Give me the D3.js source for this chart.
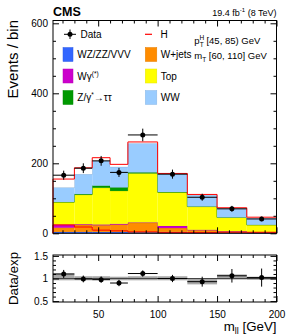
<!DOCTYPE html>
<html>
<head>
<meta charset="utf-8">
<script src="https://cdn.jsdelivr.net/npm/d3@7"></script>
<style>
  body { margin: 0; background: #fff; }
  svg { font-family: "Liberation Sans", Arial, sans-serif; }
</style>
</head>
<body>
<div id="chart"></div>
<script>
// bins in m_ll (GeV)
const binEdges = [12, 30, 45, 60, 75, 100, 125, 150, 175, 200];

// stacked backgrounds, events per bin (bottom -> top)
const vv     = [4, 4, 4, 4, 3, 4, 2, 2, 1];
const wjets  = [12, 20, 19, 21, 27, 11, 7, 3, 1.5];
const wgamma = [9, 2, 2, 2, 1, 6, 1, 1, 0.5];
const topq   = [64, 84, 105, 94, 140, 96, 66, 39, 21];
const ztt    = [0.5, 2, 6, 10, 3, 1, 0.5, 0.3, 0.2];
const ww     = [41.5, 57, 71, 59, 83, 51, 32.5, 24.7, 18.8];
const higgs  = [24, 18, 9, 7, 4, 2, 2, 3, 3];

// data
const dataY   = [166, 186, 207, 174, 281, 169, 103, 70, 41];
const dataErr = [13, 14, 14, 13, 18, 13, 10, 8.4, 6.4];

// ratio panel
const ratio    = [1.10, 0.99, 0.975, 0.90, 1.11, 1.0, 0.93, 1.06, 1.02];
const ratioErr = [0.09, 0.075, 0.07, 0.07, 0.07, 0.08, 0.11, 0.15, 0.2];
const bandLo   = [0.96, 0.96, 0.96, 0.96, 0.96, 0.96, 0.87, 0.975, 0.97];
const bandHi   = [1.11, 1.05, 1.05, 1.04, 1.05, 1.05, 1.0, 1.09, 1.04];

const yTicks = [0, 200, 400, 600];
const xTicks = [50, 100, 150, 200];
const rTicks = [0.5, 1, 1.5];

const W = 291, H = 336;
const left = 53, right = 276.5;
const mainTop = 20.5, mainBot = 233.3;
const ratTop = 255, ratBot = 302;

const svg = d3.select("#chart").append("svg")
    .attr("width", W).attr("height", H);

let x = d3.scaleLinear().domain([12, 200]).range([left, right]);
let y = d3.scaleLinear().domain([0, 608]).range([mainBot, mainTop]);
let yr = d3.scaleLinear().domain([0.48, 1.52]).range([ratBot, ratTop]);

const components = [
    {name: "vv", vals: vv, color: "#3366ff"},
    {name: "wjets", vals: wjets, color: "#ff8c00"},
    {name: "wgamma", vals: wgamma, color: "#cc00cc"},
    {name: "top", vals: topq, color: "#ffff00"},
    {name: "ztt", vals: ztt, color: "#009900"},
    {name: "ww", vals: ww, color: "#99ccff"},
    {name: "higgs", vals: higgs, color: "#ffffff"}
];

const nb = binEdges.length - 1;
let cum = new Array(nb).fill(0);
const stackG = svg.append("g");

components.forEach(function(c) {
    const lo = cum.slice();
    const hi = cum.map((v, i) => v + c.vals[i]);
    for (let i = 0; i < nb; i++) {
        stackG.append("rect")
            .attr("x", x(binEdges[i]))
            .attr("width", x(binEdges[i + 1]) - x(binEdges[i]))
            .attr("y", y(hi[i]))
            .attr("height", y(lo[i]) - y(hi[i]))
            .attr("fill", c.color);
    }
    if (c.name != "higgs") {
        // thin darker top edge
        let p = "";
        for (let i = 0; i < nb; i++) {
            p += (i == 0 ? "M" : "L") + x(binEdges[i]) + "," + y(hi[i]) + "L" + x(binEdges[i + 1]) + "," + y(hi[i]);
        }
        stackG.append("path").attr("d", p).attr("fill", "none")
            .attr("stroke", d3.color(c.color).darker(0.6)).attr("stroke-width", 0.7);
    }
    cum = hi;
});

function stepPath(vals, scale) {
    let p = "M" + x(binEdges[0]) + "," + scale(0);
    for (let i = 0; i < nb; i++) {
        p += "L" + x(binEdges[i]) + "," + scale(vals[i]) + "L" + x(binEdges[i + 1]) + "," + scale(vals[i]);
    }
    p += "L" + x(binEdges[nb]) + "," + scale(0);
    return p;
}

// total (H stacked on top) outline in red
svg.append("path").attr("d", stepPath(cum, y))
    .attr("fill", "none").attr("stroke", "#ff0000").attr("stroke-width", 1);
// H alone overlay
svg.append("path").attr("d", stepPath(higgs, y))
    .attr("fill", "none").attr("stroke", "#ff0000").attr("stroke-width", 1);

// data points
const centers = d3.range(nb).map(i => (binEdges[i] + binEdges[i + 1]) / 2);
const dataG = svg.append("g");
for (let i = 0; i < nb; i++) {
    dataG.append("line").attr("x1", x(binEdges[i])).attr("x2", x(binEdges[i + 1]))
        .attr("y1", y(dataY[i])).attr("y2", y(dataY[i]))
        .attr("stroke", "#000").attr("stroke-width", 1);
    dataG.append("line").attr("x1", x(centers[i])).attr("x2", x(centers[i]))
        .attr("y1", y(dataY[i] - dataErr[i])).attr("y2", y(dataY[i] + dataErr[i]))
        .attr("stroke", "#000").attr("stroke-width", 1);
    dataG.append("circle").attr("cx", x(centers[i])).attr("cy", y(dataY[i]))
        .attr("r", 2.5).attr("fill", "#000");
}

// axes helpers
function minorRange(a, b, step, skip) {
    return d3.range(a, b + step / 2, step).filter(v => Math.abs(v / skip - Math.round(v / skip)) > 1e-6);
}

function drawAxes(ys, yt, yMinor, yTop, yBot, showX) {
    const g = svg.append("g").attr("font-size", 13.3);
    g.append("g").attr("transform", `translate(${left},0)`)
        .call(d3.axisLeft(ys).tickValues(yt).tickSizeInner(-6).tickSizeOuter(0).tickPadding(5).tickFormat(d3.format("")));
    g.append("g").attr("transform", `translate(${left},0)`)
        .call(d3.axisLeft(ys).tickValues(yMinor).tickSizeInner(-3).tickSizeOuter(0).tickFormat(""));
    g.append("g").attr("transform", `translate(${right},0)`)
        .call(d3.axisRight(ys).tickValues(yt).tickSizeInner(-6).tickSizeOuter(0).tickFormat(""));
    g.append("g").attr("transform", `translate(${right},0)`)
        .call(d3.axisRight(ys).tickValues(yMinor).tickSizeInner(-3).tickSizeOuter(0).tickFormat(""));
    const xMinor = minorRange(20, 190, 10, 50);
    g.append("g").attr("transform", `translate(0,${yBot})`)
        .call(d3.axisBottom(x).tickValues(xTicks).tickSizeInner(-6).tickSizeOuter(0).tickPadding(9)
            .tickFormat(showX ? d3.format("") : ""));
    g.append("g").attr("transform", `translate(0,${yBot})`)
        .call(d3.axisBottom(x).tickValues(xMinor).tickSizeInner(-3).tickSizeOuter(0).tickFormat(""));
    g.append("g").attr("transform", `translate(0,${yTop})`)
        .call(d3.axisTop(x).tickValues(xTicks).tickSizeInner(-6).tickSizeOuter(0).tickFormat(""));
    g.append("g").attr("transform", `translate(0,${yTop})`)
        .call(d3.axisTop(x).tickValues(xMinor).tickSizeInner(-3).tickSizeOuter(0).tickFormat(""));
    g.selectAll(".domain").remove();
    g.selectAll("text").attr("fill", "#000").style("font-family", "Liberation Sans, Arial, sans-serif");
    g.append("rect").attr("x", left).attr("y", yTop).attr("width", right - left).attr("height", yBot - yTop)
        .attr("fill", "none").attr("stroke", "#000").attr("stroke-width", 1);
}

drawAxes(y, yTicks, minorRange(50, 600, 50, 200), mainTop, mainBot, false);

// ratio panel
const ratG = svg.append("g");
for (let i = 0; i < nb; i++) {
    ratG.append("rect").attr("x", x(binEdges[i])).attr("width", x(binEdges[i + 1]) - x(binEdges[i]))
        .attr("y", yr(bandHi[i])).attr("height", yr(bandLo[i]) - yr(bandHi[i]))
        .attr("fill", "#a8a8a8");
}
ratG.append("line").attr("x1", left).attr("x2", right).attr("y1", yr(1)).attr("y2", yr(1))
    .attr("stroke", "#444").attr("stroke-width", 1);
for (let i = 0; i < nb; i++) {
    ratG.append("line").attr("x1", x(binEdges[i])).attr("x2", x(binEdges[i + 1]))
        .attr("y1", yr(ratio[i])).attr("y2", yr(ratio[i]))
        .attr("stroke", "#000").attr("stroke-width", 1);
    ratG.append("line").attr("x1", x(centers[i])).attr("x2", x(centers[i]))
        .attr("y1", yr(ratio[i] - ratioErr[i])).attr("y2", yr(ratio[i] + ratioErr[i]))
        .attr("stroke", "#000").attr("stroke-width", 1);
    ratG.append("circle").attr("cx", x(centers[i])).attr("cy", yr(ratio[i]))
        .attr("r", 2.5).attr("fill", "#000");
}
drawAxes(yr, rTicks, minorRange(0.6, 1.5, 0.1, 0.5), ratTop, ratBot, true);

// axis titles
svg.append("text").attr("transform", "translate(18,20) rotate(-90)")
    .attr("text-anchor", "end").attr("font-size", 15).text("Events / bin");
svg.append("text").attr("transform", "translate(18,278.5) rotate(-90)")
    .attr("text-anchor", "middle").attr("font-size", 13.3).text("Data/exp");
let xt = svg.append("text").attr("x", right).attr("y", 331).attr("text-anchor", "end").attr("font-size", 13.3);
xt.append("tspan").text("m");
xt.append("tspan").attr("font-size", 9).attr("dy", 2.5).text("ll");
xt.append("tspan").attr("dy", -2.5).text(" [GeV]");

// header
svg.append("text").attr("x", left).attr("y", 15.5).attr("font-size", 12.5).attr("font-weight", "bold").text("CMS");
let lumi = svg.append("text").attr("x", right).attr("y", 15.5).attr("text-anchor", "end").attr("font-size", 9);
lumi.append("tspan").text("19.4 fb");
lumi.append("tspan").attr("font-size", 6).attr("dy", -3.5).text("-1");
lumi.append("tspan").attr("dy", 3.5).text(" (8 TeV)");

// legend
const leg = svg.append("g").attr("font-size", 10);
leg.append("line").attr("x1", 64).attr("x2", 76).attr("y1", 34.3).attr("y2", 34.3).attr("stroke", "#000");
leg.append("line").attr("x1", 70).attr("x2", 70).attr("y1", 29.5).attr("y2", 39).attr("stroke", "#000");
leg.append("circle").attr("cx", 70).attr("cy", 34.3).attr("r", 2.5).attr("fill", "#000");
leg.append("text").attr("x", 80.5).attr("y", 38).text("Data");

leg.append("line").attr("x1", 145).attr("x2", 152).attr("y1", 34.3).attr("y2", 34.3)
    .attr("stroke", "#ff0000").attr("stroke-width", 1.2);
leg.append("text").attr("x", 160.5).attr("y", 38).text("H");

const legRows = [
    {x: 63, tx: 77.3, cy: 54.5, color: "#3366ff", parts: [["WZ/ZZ/VVV", 0]]},
    {x: 63, tx: 77.3, cy: 76, color: "#cc00cc", parts: [["Wγ", 0], ["(*)", -4]]},
    {x: 63, tx: 77.3, cy: 97.5, color: "#009900", parts: [["Z/γ", 0], ["*", -4], ["→ττ", 4]]},
    {x: 145.3, tx: 160.7, cy: 54.5, color: "#ff8c00", parts: [["W+jets", 0]]},
    {x: 145.3, tx: 160.7, cy: 76, color: "#ffff00", parts: [["Top", 0]]},
    {x: 145.3, tx: 160.7, cy: 97.5, color: "#99ccff", parts: [["WW", 0]]}
];
legRows.forEach(function(r) {
    const bw = r.x > 100 ? 11.5 : 10;
    leg.append("rect").attr("x", r.x).attr("y", r.cy - 7).attr("width", bw).attr("height", 14)
        .attr("fill", r.color).attr("stroke", d3.color(r.color).darker(0.3)).attr("stroke-width", 0.5);
    const t = leg.append("text").attr("x", r.tx).attr("y", r.cy + 3.6);
    r.parts.forEach(function(p) {
        const s = t.append("tspan").attr("dy", p[1]).text(p[0]);
        if (p[1] < 0) s.attr("font-size", 6.5);
    });
});

// selection annotation
const ann = svg.append("g").attr("font-size", 9.5);
let a1 = ann.append("text").attr("x", 194.3).attr("y", 44);
a1.append("tspan").text("p");
a1.append("tspan").attr("font-size", 6.5).attr("dy", -4).text("H");
a1.append("tspan").attr("font-size", 6.5).attr("dx", -4.5).attr("dy", 7).text("T");
a1.append("tspan").attr("dy", -3).text(" [45, 85) GeV");
let a2 = ann.append("text").attr("x", 194.3).attr("y", 59);
a2.append("tspan").text("m");
a2.append("tspan").attr("font-size", 6.5).attr("dy", 3).text("T");
a2.append("tspan").attr("dy", -3).text(" [60, 110] GeV");
</script>
</body>
</html>
